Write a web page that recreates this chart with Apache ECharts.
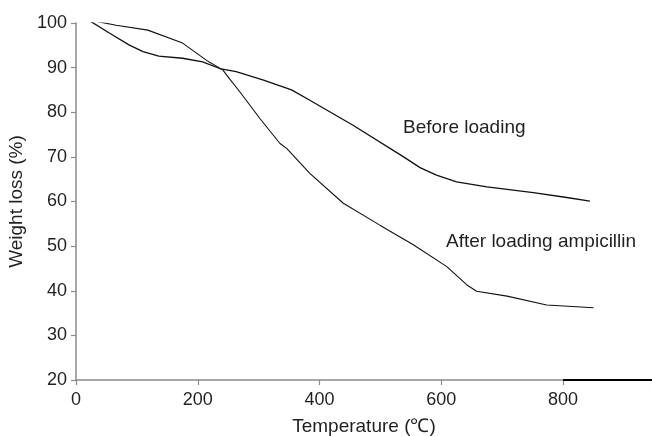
<!DOCTYPE html>
<html>
    <head>
        <meta charset="utf-8" />
        <title>TGA</title>
        <script src="https://cdn.jsdelivr.net/npm/echarts@6.0.0/dist/echarts.min.js"></script>
    </head>
    <body style="margin:0;background:#fff;">
        <div id="main" style="width: 652px;height: 436px;"></div>
        <script type="text/javascript">
            const BEFORE = "Before loading";
            const AFTER = "After loading ampicillin";

            // [temperature, weight %]
            const beforeLoading = [
                [20, 100.7], [54, 97.8], [87, 95.1], [110, 93.6], [136, 92.6], [175, 92.1],
                [208, 91.3], [236, 89.8], [263, 89.1], [308, 87.2], [354, 85.0], [384, 82.7],
                [455, 77.1], [538, 70.0], [565, 67.6], [592, 65.9], [625, 64.4], [675, 63.3],
                [751, 62.0], [806, 60.9], [844, 60.1]
            ];
            const afterLoading = [
                [20, 100.7], [66, 99.5], [118, 98.4], [175, 95.5], [218, 91.3], [241, 89.5],
                [251, 87.7], [269, 84.6], [302, 78.6], [335, 73.0], [346, 71.9], [384, 66.3],
                [439, 59.6], [499, 54.7], [554, 50.3], [609, 45.4], [642, 41.3], [658, 39.9],
                [708, 38.8], [773, 36.8], [850, 36.2]
            ];
            // dark stroke along the bottom axis at the right end
            const baseStroke = [[800, 20], [946, 20]];

            const xTicks = [0, 200, 400, 600, 800];
            const yTicks = [20, 30, 40, 50, 60, 70, 80, 90, 100];

            const textColor = '#231f20';
            const axisColor = '#8a8a8a';
            const font = 'Liberation Sans, Arial, sans-serif';

            const myChart = echarts.init(document.getElementById('main'));

            const option = {
                animation: false,
                grid: {
                    left: 76, right: 0, top: 23, bottom: 56,
                    containLabel: false, outerBoundsMode: 'none'
                },
                xAxis: {
                    type: 'value',
                    min: 0,
                    max: 946,
                    interval: 200,
                    name: 'Temperature (\u2103)',
                    nameLocation: 'middle',
                    nameGap: 37,
                    nameTextStyle: { color: textColor, fontSize: 19, fontFamily: font },
                    splitLine: { show: false },
                    axisLine: { lineStyle: { color: axisColor, width: 1.5 } },
                    axisTick: { length: 5, lineStyle: { color: axisColor, width: 1.2 } },
                    axisLabel: {
                        color: textColor, fontSize: 18, fontFamily: font, margin: 11,
                        customValues: xTicks
                    }
                },
                yAxis: {
                    type: 'value',
                    min: 20,
                    max: 100,
                    interval: 10,
                    name: 'Weight loss (%)',
                    nameLocation: 'middle',
                    nameGap: 49,
                    nameTextStyle: { color: textColor, fontSize: 19, fontFamily: font },
                    splitLine: { show: false },
                    axisLine: { show: true, lineStyle: { color: axisColor, width: 1.5 } },
                    axisTick: { show: true, length: 5, lineStyle: { color: axisColor, width: 1.2 } },
                    axisLabel: {
                        color: textColor, fontSize: 18, fontFamily: font, margin: 9,
                        customValues: yTicks
                    }
                },
                series: [
                    {
                        name: BEFORE,
                        type: 'line',
                        data: beforeLoading,
                        symbol: 'none',
                        lineStyle: { color: '#111', width: 1.3 }
                    },
                    {
                        name: AFTER,
                        type: 'line',
                        data: afterLoading,
                        symbol: 'none',
                        lineStyle: { color: '#111', width: 1.1 }
                    },
                    {
                        name: 'base',
                        type: 'line',
                        data: baseStroke,
                        symbol: 'none',
                        lineStyle: { color: '#000', width: 2 },
                        z: 5
                    }
                ],
                graphic: [
                    {
                        type: 'text', left: 403, top: 118,
                        style: { text: BEFORE, fill: textColor, font: '19px ' + font }
                    },
                    {
                        type: 'text', left: 446, top: 232,
                        style: { text: AFTER, fill: textColor, font: '19px ' + font }
                    }
                ]
            };
            myChart.setOption(option);
        </script>
    </body>
</html>
